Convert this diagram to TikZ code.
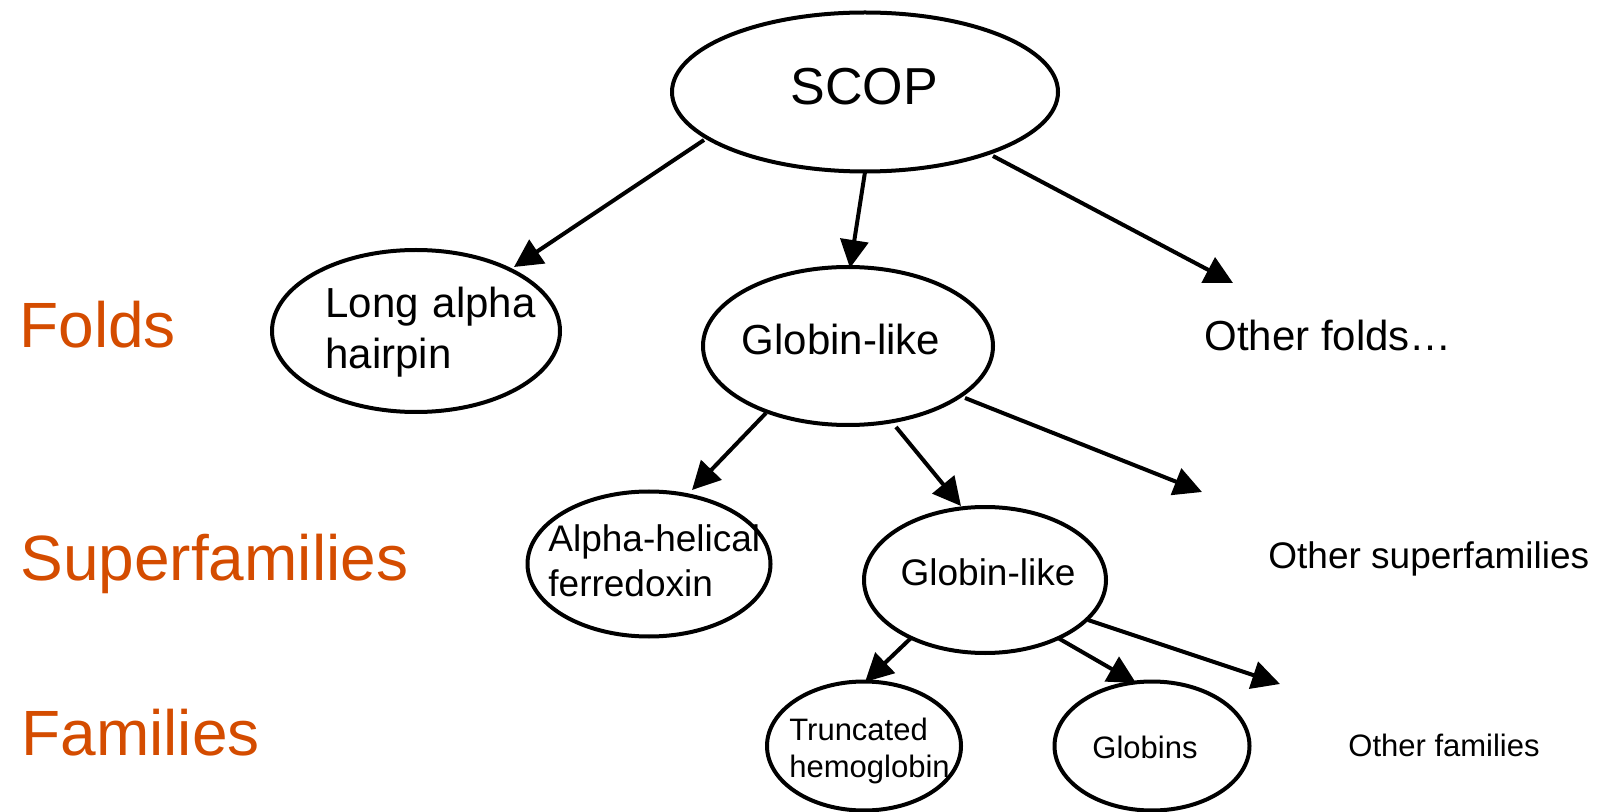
\documentclass[tikz,border=0pt]{standalone}
\usepackage{fontspec}
\setmainfont{Liberation Sans}
\usetikzlibrary{shapes.geometric,arrows.meta}
\definecolor{lvlorange}{RGB}{212,76,0}
\tikzset{
  ell/.style={draw, ellipse, line width=2pt, inner sep=0pt},
  arr/.style={line width=2pt, -{Triangle[length=14pt,width=14pt]}},
  txt/.style={inner sep=0pt, text=black},
  lvl/.style={inner sep=0pt, anchor=base west, text=lvlorange, font=\fontsize{32}{36}\selectfont},
}
\begin{document}
\begin{tikzpicture}[x=0.5pt, y=-0.5pt]
\useasboundingbox (0,0) rectangle (1601,812);
% level labels
\node[lvl] (folds) at (19,348) {Folds};
\node[lvl] (sfam) at (20,580) {Superfamilies};
\node[lvl] (fam) at (21,755) {Families};
% ellipses
\node[ell, minimum width=386pt*0.5, minimum height=159pt*0.5] (scop) at (865,92) {};
\node[ell, minimum width=288pt*0.5, minimum height=162pt*0.5] (lah) at (416,331) {};
\node[ell, minimum width=290pt*0.5, minimum height=158pt*0.5] (gfold) at (848,346) {};
\node[ell, minimum width=243pt*0.5, minimum height=145pt*0.5] (ahf) at (649,564) {};
\node[ell, minimum width=242pt*0.5, minimum height=146pt*0.5] (gsf) at (985,580) {};
\node[ell, minimum width=194pt*0.5, minimum height=129pt*0.5] (trunc) at (864,746) {};
\node[ell, minimum width=195pt*0.5, minimum height=129pt*0.5] (glob) at (1152,746) {};
% texts
\node[txt, anchor=base, font=\fontsize{26}{30}\selectfont] (scopt) at (864,105) {SCOP};
\node[txt, anchor=base west, text width=120pt, align=left, font=\fontsize{21}{25.5}\selectfont] (laht) at (325,318) {Long alpha\\hairpin};
\node[txt, anchor=base, font=\fontsize{21}{25}\selectfont] (gfoldt) at (841,355) {Globin-like};
\node[txt, anchor=base west, font=\fontsize{21}{25}\selectfont] (ofold) at (1204,351) {Other folds…};
\node[txt, anchor=base west, text width=120pt, align=left, font=\fontsize{18.5}{22.5}\selectfont] (ahft) at (548,552) {Alpha-helical\\ferredoxin};
\node[txt, anchor=base, font=\fontsize{18.5}{22}\selectfont] (gsft) at (988,585) {Globin-like};
\node[txt, anchor=base west, font=\fontsize{18.5}{22}\selectfont] (osf) at (1268,568) {Other superfamilies};
\node[txt, anchor=base west, text width=100pt, align=left, font=\fontsize{15.5}{18.5}\selectfont] (trunct) at (789,740) {Truncated\\hemoglobin};
\node[txt, anchor=base, font=\fontsize{15.5}{18.5}\selectfont] (globt) at (1145,758) {Globins};
\node[txt, anchor=base west, font=\fontsize{15.5}{18.5}\selectfont] (ofam) at (1348,756) {Other families};
% connector ends
\coordinate (s1) at (704,140);  \coordinate (t1) at (514,267);
\coordinate (s2) at (865,172);  \coordinate (t2) at (850,268);
\coordinate (s3) at (993,156);  \coordinate (t3) at (1233,283);
\coordinate (s4) at (766,413);  \coordinate (t4) at (692,490);
\coordinate (s5) at (896,427);  \coordinate (t5) at (961,506);
\coordinate (s6) at (965,398);  \coordinate (t6) at (1202,492);
\coordinate (s7) at (911,638);  \coordinate (t7) at (865,682);
\coordinate (s8) at (1058,638); \coordinate (t8) at (1136,683);
\coordinate (s9) at (1088,620); \coordinate (t9) at (1280,684);
\draw[arr] (s1) -- (t1);
\draw[arr] (s2) -- (t2);
\draw[arr] (s3) -- (t3);
\draw[arr] (s4) -- (t4);
\draw[arr] (s5) -- (t5);
\draw[arr] (s6) -- (t6);
\draw[arr] (s7) -- (t7);
\draw[arr] (s8) -- (t8);
\draw[arr] (s9) -- (t9);
\end{tikzpicture}
\end{document}
